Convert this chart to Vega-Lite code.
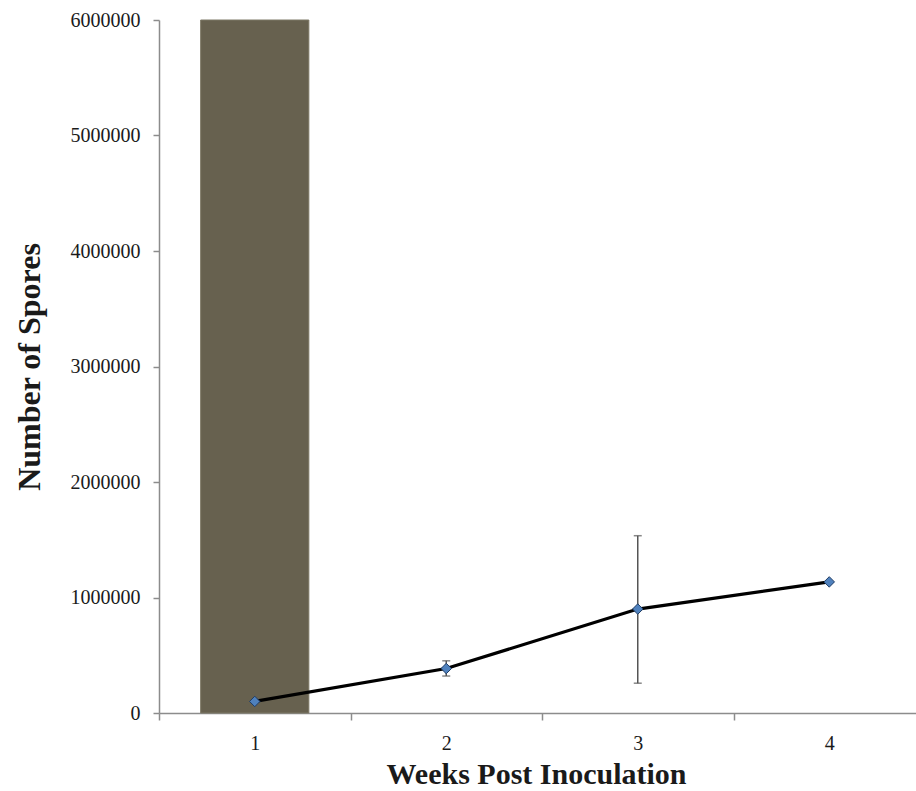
{
  "$schema": "https://vega.github.io/schema/vega-lite/v6.json",
  "autosize": {"type": "none"},
  "padding": {"left": 159, "top": 20, "right": 0, "bottom": 78},
  "width": 766,
  "height": 693,
  "background": "white",
  "config": {
    "view": {"stroke": null},
    "font": "Liberation Serif",
    "axis": {
      "labelFont": "Liberation Serif",
      "titleFont": "Liberation Serif",
      "labelColor": "#1a1a1a",
      "titleColor": "#1a1a1a",
      "domainColor": "#8c8c8c",
      "tickColor": "#8c8c8c",
      "domainWidth": 1.5,
      "tickWidth": 1.5,
      "grid": false
    }
  },
  "data": {
    "values": [
      {"week": "1", "spores": 100000, "lo": 100000, "hi": 100000, "bar": 6000000},
      {"week": "2", "spores": 385000, "lo": 320000, "hi": 452000, "bar": null},
      {"week": "3", "spores": 900000, "lo": 258000, "hi": 1535000, "bar": null},
      {"week": "4", "spores": 1135000, "lo": 1135000, "hi": 1135000, "bar": null}
    ]
  },
  "encoding": {
    "x": {
      "field": "week",
      "type": "ordinal",
      "scale": {"paddingInner": 0, "paddingOuter": 0},
      "axis": {
        "title": "Weeks Post Inoculation",
        "titleFontSize": 30,
        "titleFontWeight": "bold",
        "titlePadding": 6,
        "titleX": 377,
        "labelFontSize": 20,
        "labelAngle": 0,
        "labelPadding": 13,
        "tickBand": "extent",
        "tickSize": 7
      }
    }
  },
  "layer": [
    {
      "mark": {"type": "bar", "color": "#67614f", "stroke": "#7d7866", "strokeWidth": 1, "width": {"band": 0.565}},
      "transform": [{"filter": "datum.bar != null"}],
      "encoding": {
        "y": {
          "field": "bar",
          "type": "quantitative",
          "scale": {"domain": [0, 6000000], "nice": false},
          "axis": {
            "title": "Number of Spores",
            "titleFontSize": 32,
            "titleFontWeight": "bold",
            "titlePadding": 24,
            "labelFontSize": 20,
            "labelPadding": 13,
            "tickSize": 6,
            "values": [0, 1000000, 2000000, 3000000, 4000000, 5000000, 6000000],
            "format": "d"
          }
        }
      }
    },
    {
      "mark": {"type": "rule", "color": "#555555", "strokeWidth": 1.5},
      "encoding": {
        "y": {"field": "lo", "type": "quantitative"},
        "y2": {"field": "hi"}
      }
    },
    {
      "mark": {"type": "tick", "color": "#555555", "thickness": 1.5, "size": 8},
      "encoding": {"y": {"field": "lo", "type": "quantitative"}}
    },
    {
      "mark": {"type": "tick", "color": "#555555", "thickness": 1.5, "size": 8},
      "encoding": {"y": {"field": "hi", "type": "quantitative"}}
    },
    {
      "mark": {"type": "line", "color": "#000000", "strokeWidth": 3.2},
      "encoding": {"y": {"field": "spores", "type": "quantitative"}}
    },
    {
      "mark": {"type": "point", "shape": "diamond", "filled": true, "fill": "#4f81bd", "stroke": "#1f3d66", "strokeWidth": 1, "size": 110, "opacity": 1},
      "encoding": {"y": {"field": "spores", "type": "quantitative"}}
    }
  ]
}
